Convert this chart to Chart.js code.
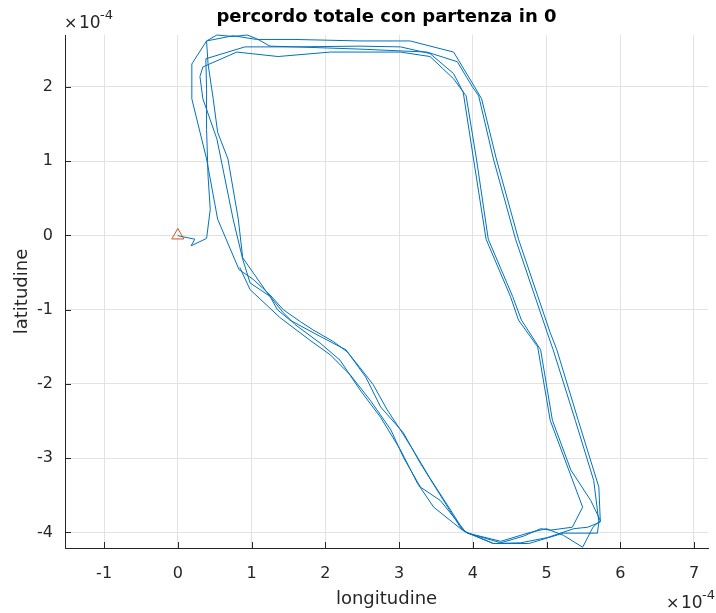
<!DOCTYPE html>
<html><head><meta charset="utf-8">
<script src="https://cdn.jsdelivr.net/npm/chart.js@4/dist/chart.umd.min.js"></script>
<style>html,body{margin:0;padding:0;background:#fff;}#wrap{width:716px;height:613px;position:relative;}</style>
</head><body><div id="wrap"><canvas id="c" width="716" height="613"></canvas></div>
<script>
// longitude / latitude in units of 1e-4
const lon = [0,0.03,0.23,0.18,0.39,0.44,0.41,0.39,0.39,0.38,
0.91,1.59,2.47,3.38,3.79,3.99,4.08,4.28,4.58,5.01,
5.09,5.39,5.64,5.71,5.69,5.23,4.76,4.28,3.91,3.87,
3.70,3.42,3.19,3.02,2.84,2.65,2.47,2.30,2.11,1.83,
1.66,1.43,1.25,1.02,0.83,0.54,0.39,0.19,0.19,0.39,
0.53,0.75,0.94,1.07,1.25,1.59,2.47,3.02,3.42,3.74,
3.87,4.01,4.18,4.51,4.62,4.88,5.05,5.49,5.35,5.05,
4.92,4.69,4.38,3.93,3.83,3.29,3.06,2.75,2.55,2.28,
1.93,1.52,1.35,1.25,0.98,0.88,0.75,0.53,0.34,0.30,
0.34,0.80,1.36,2.07,3.02,3.42,3.74,3.91,4.05,4.21,
4.54,4.66,4.92,5.08,5.33,5.60,5.73,5.63,5.49,5.23,
5.00,4.78,4.38,3.93,3.86,3.47,3.25,3.02,2.75,2.47,
2.20,1.93,1.59,1.43,1.21,0.88,0.82,0.68,0.54,0.48,
0.41,0.39,0.75,1.07,1.59,2.47,3.15,3.74,4.02,4.12,
4.32,4.62,5.05,5.14,5.43,5.71,5.73,5.56,5.37,5.01,
4.65,4.28,3.90,3.56,3.29,3.06,2.89,2.61,2.34,2.07,
1.79,1.39,0.98,0.84];
const lat = [0,-0.01,-0.05,-0.14,-0.04,0.35,0.80,1.43,1.97,2.38,
2.54,2.54,2.51,2.47,2.34,2.01,1.88,1.03,-0.05,-1.31,
-1.54,-2.49,-3.30,-3.86,-4.01,-4.01,-4.15,-4.15,-4.00,-3.97,
-3.70,-3.27,-2.89,-2.62,-2.35,-2.01,-1.78,-1.57,-1.43,-1.27,
-1.16,-1.00,-0.80,-0.59,-0.46,0.22,1.03,1.84,2.31,2.62,
2.70,2.68,2.70,2.65,2.55,2.54,2.55,2.54,2.45,2.18,
1.93,1.03,-0.05,-0.82,-1.14,-1.50,-2.49,-3.66,-3.93,-3.97,
-3.95,-4.05,-4.14,-4.01,-3.93,-3.07,-2.66,-2.31,-1.91,-1.54,
-1.36,-1.14,-1.00,-0.82,-0.64,-0.32,0.22,1.30,1.84,2.14,
2.27,2.47,2.41,2.47,2.47,2.41,2.11,1.88,1.03,-0.05,
-0.82,-1.14,-1.54,-2.49,-3.16,-3.57,-3.84,-3.93,-4.20,-4.04,
-3.95,-4.00,-4.12,-4.01,-3.97,-3.66,-3.34,-2.89,-2.45,-2.08,
-1.68,-1.45,-1.20,-1.04,-0.77,-0.30,0.22,1.03,1.39,1.84,
2.31,2.62,2.69,2.64,2.64,2.62,2.62,2.47,2.01,1.84,
1.03,-0.05,-1.31,-1.54,-2.49,-3.39,-3.86,-3.93,-3.95,-4.07,
-4.14,-4.15,-3.99,-3.57,-3.39,-2.99,-2.62,-2.22,-1.88,-1.61,
-1.41,-1.11,-0.73,-0.43];
const xTicks = [-1,0,1,2,3,4,5,6,7];
const yTicks = [-4,-3,-2,-1,0,1,2];
const xLimits = [-1.53, 7.19];
const yLimits = [-4.21, 2.70];
const titleText = 'percordo totale con partenza in 0';
const xLabel = 'longitudine';
const yLabel = 'latitudine';

const FONT = "'DejaVu Sans', sans-serif";
const AX = '#262626';

const path = lon.map((v,i)=>({x:v, y:lat[i]}));
const start = [{x:lon[0], y:lat[0]}];

const deco = {
  id:'deco',
  afterDraw(chart){
    const ctx = chart.ctx, ca = chart.chartArea;
    const xs = chart.scales.x, ys = chart.scales.y;
    ctx.save();
    // inward ticks
    ctx.strokeStyle = AX; ctx.lineWidth = 1;
    ctx.beginPath();
    xTicks.forEach(t=>{const p=Math.round(xs.getPixelForValue(t))+0.5; ctx.moveTo(p, ca.bottom); ctx.lineTo(p, ca.bottom-6);});
    yTicks.forEach(t=>{const p=Math.round(ys.getPixelForValue(t))+0.5; ctx.moveTo(ca.left, p); ctx.lineTo(ca.left+6, p);});
    ctx.stroke();
    ctx.fillStyle = '#000';
    ctx.textAlign = 'center'; ctx.textBaseline = 'middle';
    ctx.font = "bold 18px " + FONT;
    ctx.fillText(titleText, (ca.left+ca.right)/2, 17);
    ctx.fillStyle = AX;
    ctx.font = "18px " + FONT;
    ctx.fillText(xLabel, (ca.left+ca.right)/2, 599);
    ctx.save();
    ctx.translate(22, (ca.top+ca.bottom)/2);
    ctx.rotate(-Math.PI/2);
    ctx.fillText(yLabel, 0, 0);
    ctx.restore();
    // exponent labels
    function expo(x, y){
      ctx.textAlign='left'; ctx.textBaseline='alphabetic';
      ctx.font = "16px " + FONT;
      ctx.fillText('\u00d7', x, y);
      ctx.font = "17px " + FONT;
      ctx.fillText('10', x+15, y);
      ctx.font = "13px " + FONT;
      ctx.fillText('-4', x+36, y-9);
    }
    expo(64, 28);
    expo(666, 608);
    ctx.restore();
  }
};

new Chart(document.getElementById('c'), {
  type:'scatter',
  data:{datasets:[
    {data:start, showLine:false, pointStyle:'triangle', pointRadius:7, pointHoverRadius:7,
     borderColor:'#D95319', backgroundColor:'rgba(0,0,0,0)', borderWidth:1, clip:false, order:0},
    {data:path, showLine:true, pointRadius:0, borderColor:'#0072BD', borderWidth:1,
     tension:0, fill:false, clip:false, order:1}
  ]},
  options:{
    responsive:false, animation:false, devicePixelRatio:1,
    layout:{padding:{top:35,right:6,left:0,bottom:0}},
    plugins:{legend:{display:false}, tooltip:{enabled:false}, title:{display:false}},
    scales:{
      x:{type:'linear', min:xLimits[0], max:xLimits[1],
         afterBuildTicks:s=>{s.ticks = xTicks.map(v=>({value:v}));},
         afterFit:s=>{s.height=65;},
         ticks:{color:AX, font:{family:FONT, size:16}, padding:16, maxRotation:0, autoSkip:false},
         grid:{color:'#e2e2e2', drawTicks:false},
         border:{color:AX, width:1}},
      y:{type:'linear', min:yLimits[0], max:yLimits[1],
         afterBuildTicks:s=>{s.ticks = yTicks.map(v=>({value:v}));},
         afterFit:s=>{s.width=65;},
         ticks:{color:AX, font:{family:FONT, size:16}, padding:12, autoSkip:false},
         grid:{color:'#e2e2e2', drawTicks:false},
         border:{color:AX, width:1}}
    }
  },
  plugins:[deco]
});
</script></body></html>
